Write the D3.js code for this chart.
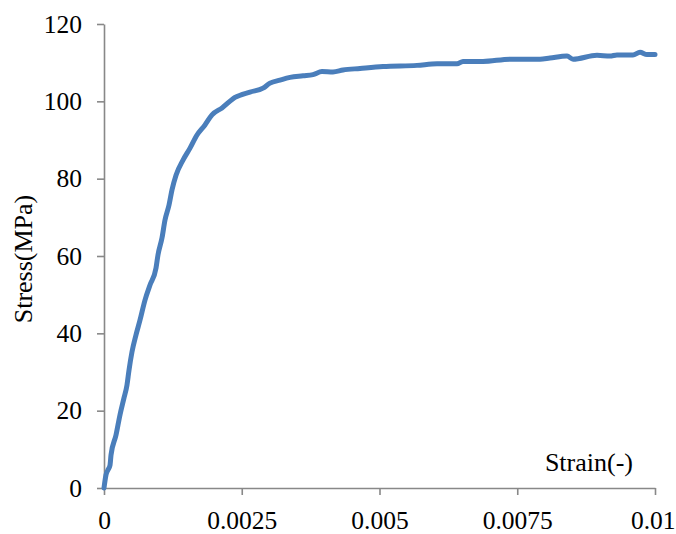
<!DOCTYPE html>
<meta charset="utf-8">
<style>
  body { margin: 0; background: #fff; }
  .line { fill: none; stroke: #4a7ebb; stroke-width: 5px; stroke-linejoin: round; stroke-linecap: round; }
  .axis path, .axis line { stroke: #888888; stroke-width: 1.6px; }
  .axis text { font-family: "Liberation Serif", "Times New Roman", serif; font-size: 25.5px; fill: #000; }
  .label { font-family: "Liberation Serif", "Times New Roman", serif; font-size: 26px; fill: #000; }
</style>
<body>
<script src="https://d3js.org/d3.v7.min.js"></script>
<script>

// strain (-) and stress (MPa)
var strain = [0, 0.000036, 0.000073, 0.000109, 0.000127, 0.000218, 0.00029, 0.000363, 0.000417, 0.000454,
  0.000508, 0.000581, 0.000653, 0.000744, 0.000835, 0.000944, 0.00098, 0.001053, 0.001107, 0.00118,
  0.001234, 0.001307, 0.001434, 0.001561, 0.001688, 0.001833, 0.00196, 0.002142, 0.002377, 0.00265,
  0.002886, 0.003013, 0.003194, 0.003376, 0.003612, 0.003793, 0.003956, 0.004156, 0.004338, 0.004646,
  0.005064, 0.00568, 0.006044, 0.006407, 0.006515, 0.006878, 0.007368, 0.007913, 0.008094, 0.008403,
  0.008512, 0.008947, 0.009183, 0.00931, 0.0096, 0.009728, 0.009855, 0.01];
var stress = [0, 3.4, 4.7, 5.9, 8.5, 13.7, 18.9, 23.3, 26.6, 30.5,
  35.2, 39.6, 43.4, 48.6, 52.5, 56.9, 60.3, 64.7, 69.3, 73.2,
  77.1, 80.9, 84.8, 87.9, 91.3, 93.9, 96.5, 98.3, 101.0, 102.4,
  103.4, 104.7, 105.5, 106.2, 106.6, 106.9, 107.7, 107.6, 108.1, 108.5,
  109.0, 109.3, 109.7, 109.7, 110.3, 110.3, 110.9, 110.9, 111.2, 111.7,
  110.9, 111.9, 111.7, 112.0, 112.0, 112.7, 112.1, 112.1];
var xTicks = [0, 0.0025, 0.005, 0.0075, 0.01];
var xTickLabels = ["0", "0.0025", "0.005", "0.0075", "0.01"];
var yTicks = [0, 20, 40, 60, 80, 100, 120];

var margin = {top: 24, right: 21, bottom: 46, left: 104},
    width = 676 - margin.left - margin.right,
    height = 534 - margin.top - margin.bottom;

var x = d3.scaleLinear().domain([0, 0.01]).range([0, width]);
var y = d3.scaleLinear().domain([0, 120]).range([height, 0]);

var data = strain.map(function(s, i) { return {strain: s, stress: stress[i]}; });

var valueline = d3.line()
    .x(function(d) { return x(d.strain); })
    .y(function(d) { return y(d.stress); })
    .curve(d3.curveMonotoneX);

var svg = d3.select("body").append("svg")
    .attr("width", 676)
    .attr("height", 534)
  .append("g")
    .attr("transform", "translate(" + margin.left + "," + margin.top + ")");

// Y axis
svg.append("g")
    .attr("class", "axis")
    .call(d3.axisLeft(y).tickValues(yTicks).tickSize(7).tickPadding(15).tickSizeOuter(0));

// X axis
var xAxis = svg.append("g")
    .attr("class", "axis")
    .attr("transform", "translate(0," + height + ")")
    .call(d3.axisBottom(x).tickValues(xTicks).tickSize(7).tickPadding(16).tickSizeOuter(0)
      .tickFormat(function(d, i) { return xTickLabels[i]; }));

// last label sits flush with the right edge, keep it inside
xAxis.selectAll(".tick:last-of-type text")
    .attr("text-anchor", "end")
    .attr("x", 20);

// the curve
svg.append("path")
    .datum(data)
    .attr("class", "line")
    .attr("d", valueline);

// axis titles
svg.append("text")
    .attr("class", "label")
    .attr("transform", "rotate(-90)")
    .attr("x", -235)
    .attr("y", -72)
    .attr("text-anchor", "middle")
    .text("Stress(MPa)");

svg.append("text")
    .attr("class", "label")
    .attr("x", 633 - margin.left)
    .attr("y", 471 - margin.top)
    .attr("text-anchor", "end")
    .text("Strain(-)");

</script>
</body>
